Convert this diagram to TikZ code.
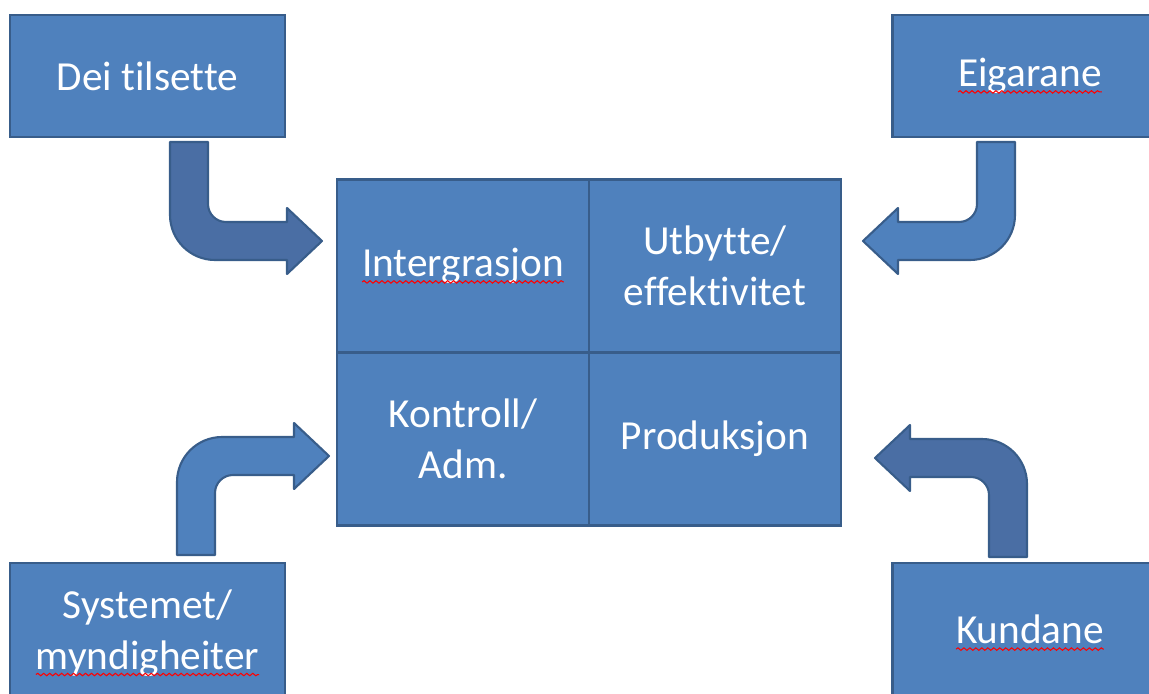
\documentclass[tikz,border=0pt]{standalone}
\usepackage{fontspec}
\setmainfont{Carlito}[Ligatures={NoCommon}]
\usetikzlibrary{positioning,decorations.pathmorphing}
\definecolor{boxblue}{HTML}{4F81BD}
\definecolor{boxedge}{HTML}{385D8A}
\definecolor{arrowdark}{HTML}{4A6EA4}
\tikzset{
  box/.style={draw=boxedge,fill=boxblue,line width=1.2pt,text=white,align=center,
    minimum width=5.5cm,minimum height=2.44cm,inner sep=0pt,
    font=\fontsize{23.5}{29}\selectfont},
  cell/.style={box,minimum width=5.04cm,minimum height=3.46cm,outer sep=0pt},
  bentarrow/.style={draw=boxedge,line width=1.2pt,line join=round},
  spellline/.style={red,line width=0.6pt,decorate,
    decoration={snake,amplitude=0.7pt,segment length=3.4pt}}
}
% red spell-check wave under a word
\newcommand\spellchk[1]{\tikz[baseline=(sw.base),x=1cm,y=1cm]{%
  \node[inner sep=0pt,outer sep=0pt,minimum width=0pt,minimum height=0pt,
        draw=none,fill=none] (sw) {#1};
  \draw[spellline] ([yshift=-3pt]sw.base west) -- ([yshift=-3pt]sw.base east);}}
\begin{document}
\begin{tikzpicture}[x=0.02cm,y=-0.02cm]
  \useasboundingbox (0,0) rectangle (1149,693);
  \clip (0,0) rectangle (1149,693);
  % outer boxes
  \node[box] (tilsette) at (147.5,76) {Dei tilsette};
  \node[box] (eigar) at (1030,76) {\spellchk{Eigarane}};
  \node[box,minimum height=2.8cm] (system) at (147.5,633) {Systemet/\\\spellchk{myndigheiter}};
  \node[box,minimum height=2.8cm] (kund) at (1030,633) {\spellchk{Kundane}};
  % centre grid
  \node[cell] (integ) at (463,266) {\spellchk{Intergrasjon}};
  \node[cell,right=0pt of integ] (utbytte) {Utbytte/\\effektivitet};
  \node[cell,below=0pt of integ] (kontroll) {Kontroll/\\Adm.};
  \node[cell,right=0pt of kontroll] (prod) {Produksjon};
  % bent arrows
  \pgfmathsetmacro\w{38}
  \pgfmathsetmacro\ri{18}
  \pgfmathsetmacro\ro{45}
  \foreach \ax/\ay/\sx/\sy/\col in {170/142/1/1/arrowdark,1015/142/-1/1/boxblue,
                                    177/555/1/-1/boxblue,1027/557/-1/-1/arrowdark} {
    \begin{scope}[shift={(\ax,\ay)},xscale=\sx,yscale=\sy]
      \filldraw[bentarrow,fill=\col] (0,0) -- (\w,0) -- (\w,80-\ri)
        .. controls (\w,{80-0.448*\ri}) and ({\w+0.448*\ri},80) .. ({\w+\ri},80)
        -- (117,80) -- (117,66) -- (152,99) -- (117,132) -- (117,118) -- (\ro,118)
        .. controls ({0.448*\ro},118) and (0,{118-0.448*\ro}) .. (0,118-\ro) -- cycle;
    \end{scope}
  }
\end{tikzpicture}
\end{document}
